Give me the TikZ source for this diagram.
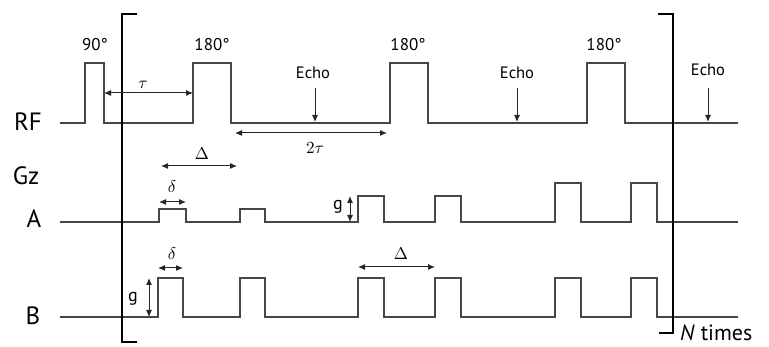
\documentclass[tikz,border=0pt]{standalone}
\usepackage[no-math]{fontspec}
\setmainfont{PT Sans}
\usepackage{fix-cm}
\usetikzlibrary{arrows.meta}
\begin{document}
\begin{tikzpicture}[x=1pt,y=-1pt,
  wave/.style={draw=black!72, line width=1.6pt, line join=miter},
  brk/.style={draw=black, line width=2.3pt},
  dimarr/.style={draw=black!85, line width=1pt, {Latex[length=7pt,width=6pt]}-{Latex[length=7pt,width=6pt]}},
  echoarr/.style={draw=black!85, line width=1pt, -{Latex[length=7pt,width=6pt]}},
  deg/.style={font=\fontsize{17}{17}\selectfont, inner sep=0pt},
  axlbl/.style={font=\fontsize{25}{25}\selectfont, inner sep=0pt},
  echolbl/.style={font=\fontsize{16.5}{16.5}\selectfont, inner sep=0pt},
  mlbl/.style={inner sep=0pt},
  glbl/.style={font=\fontsize{18}{18}\selectfont, inner sep=0pt}
]
\newcommand{\mymath}[1]{\scalebox{1.7}{$#1$}}
\useasboundingbox (0,0) rectangle (769,347);

% waveforms
\draw[wave] (60,123) -- (85,123) -- (85,63) -- (104,63) -- (104,123) -- (193,123) -- (193,63) -- (231,63) -- (231,123)
  -- (390,123) -- (390,63) -- (428,63) -- (428,123) -- (587,123) -- (587,63) -- (625,63) -- (625,123) -- (738,123);
\draw[wave] (60,222) -- (159,222) -- (159,209) -- (186,209) -- (186,222) -- (240,222) -- (240,209) -- (265,209) -- (265,222)
  -- (358,222) -- (358,196) -- (384,196) -- (384,222) -- (435,222) -- (435,196) -- (461,196) -- (461,222)
  -- (555,222) -- (555,183) -- (581,183) -- (581,222) -- (631,222) -- (631,183) -- (657,183) -- (657,222) -- (738,222);
\draw[wave] (60,317) -- (158,317) -- (158,278) -- (183,278) -- (183,317) -- (240,317) -- (240,278) -- (265,278) -- (265,317)
  -- (358,317) -- (358,278) -- (384,278) -- (384,317) -- (435,317) -- (435,278) -- (461,278) -- (461,317)
  -- (555,317) -- (555,278) -- (581,278) -- (581,317) -- (631,317) -- (631,278) -- (657,278) -- (657,317) -- (738,317);

% brackets
\draw[brk] (137,14) -- (122,14) -- (122,342) -- (137,342);
\draw[brk] (658,14) -- (673,14) -- (673,333) -- (659,333);

% labels
\node[deg] (p90) at (95,45) {90°};
\node[deg] (p180a) at (212,45) {180°};
\node[deg] (p180b) at (408,45) {180°};
\node[deg] (p180c) at (604,45) {180°};
\node[axlbl] (rf) at (28,122) {RF};
\node[axlbl] (gz) at (26,176) {Gz};
\node[axlbl] (la) at (34,219) {A};
\node[axlbl] (lb) at (33,316) {B};
\node[echolbl] (e1) at (313,73) {Echo};
\node[echolbl] (e2) at (517,73) {Echo};
\node[echolbl] (e3) at (708,70) {Echo};
\node[mlbl] (tau) at (143,85) {\mymath{\tau}};
\node[mlbl] (tau2) at (315,148) {\mymath{2\tau}};
\node[mlbl] (DelA) at (202,154) {\mymath{\Delta}};
\node[mlbl] (delA) at (172,187) {\mymath{\delta}};
\node[mlbl] (delB) at (172,254) {\mymath{\delta}};
\node[mlbl] (DelB) at (401,254) {\mymath{\Delta}};
\node[glbl] (gB) at (133,299) {g};
\node[glbl] (gA) at (338,207) {g};
\node[font=\fontsize{22}{22}\selectfont, inner sep=0pt, anchor=west] (nt) at (680,333) {\textit{N} times};

% coordinates for arrows
\coordinate (t1) at (104,93); \coordinate (t2) at (193,93);
\coordinate (tt1) at (235,133); \coordinate (tt2) at (387,133);
\coordinate (da1) at (161,166); \coordinate (da2) at (237,166);
\coordinate (sa1) at (159,202); \coordinate (sa2) at (186,202);
\coordinate (sb1) at (158,268); \coordinate (sb2) at (183,268);
\coordinate (db1) at (358,267); \coordinate (db2) at (435,267);
\coordinate (gb1) at (149,278); \coordinate (gb2) at (149,317);
\coordinate (ga1) at (350,196); \coordinate (ga2) at (350,222);
\coordinate (ea1) at (315,88); \coordinate (ea2) at (315,122);
\coordinate (eb1) at (517,88); \coordinate (eb2) at (517,122);
\coordinate (ec1) at (708,88); \coordinate (ec2) at (708,122);

\draw[dimarr] (t1) -- (t2);
\draw[dimarr] (tt1) -- (tt2);
\draw[dimarr] (da1) -- (da2);
\draw[dimarr] (sa1) -- (sa2);
\draw[dimarr] (sb1) -- (sb2);
\draw[dimarr] (db1) -- (db2);
\draw[dimarr] (gb1) -- (gb2);
\draw[dimarr] (ga1) -- (ga2);
\draw[echoarr] (ea1) -- (ea2);
\draw[echoarr] (eb1) -- (eb2);
\draw[echoarr] (ec1) -- (ec2);
\end{tikzpicture}
\end{document}
